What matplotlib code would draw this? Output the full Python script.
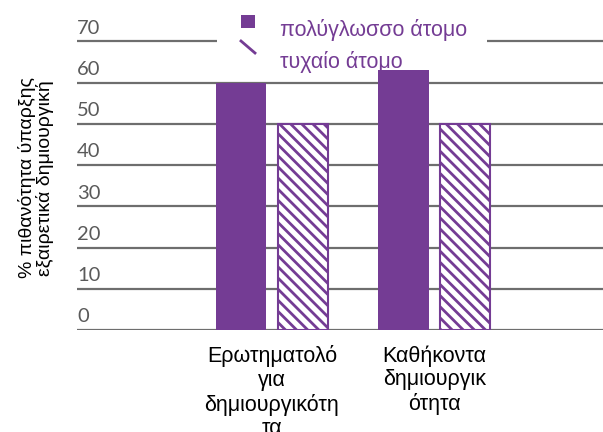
import numpy as np
import matplotlib
matplotlib.use("Agg")
import matplotlib.pyplot as plt
from matplotlib.patches import Rectangle
from matplotlib.lines import Line2D

categories = ["Ερωτηματολό\nγια\nδημιουργικότη\nτα", "Καθήκοντα\nδημιουργικ\nότητα"]
multilingual = [60, 63]
random_person = [50, 50]
series_names = ["πολύγλωσσο άτομο", "τυχαίο άτομο"]
yticks = [0, 10, 20, 30, 40, 50, 60, 70]

purple = "#743c94"
grid_grey = "#6e6e6e"

plt.rcParams["hatch.linewidth"] = 2.0
plt.rcParams["font.family"] = ["Liberation Sans", "DejaVu Sans"]

W, H = 603, 432
fig = plt.figure(figsize=(W / 100, H / 100), dpi=100)
ax = fig.add_axes([0.128, 0.236, 0.872, 0.764])

x = np.arange(len(categories))
w = 0.31
off = 0.19

for v in yticks:
    ax.axhline(v, color=grid_grey, lw=1.6, zorder=1)
    ax.annotate(str(v), xy=(0, v), xycoords=("axes fraction", "data"),
                xytext=(0, 3.3), textcoords="offset points",
                ha="left", va="bottom", fontsize=14.5, color="#5a5a5a",
                family=["Lato", "DejaVu Sans"])

ax.bar(x - off, multilingual, w, color=purple, zorder=2)
ax.bar(x + off, random_person, w, facecolor="white", edgecolor=purple,
       hatch="\\\\\\", lw=1.5, zorder=2)

ax.set_xlim(-1.2, 2.04)
ax.set_ylim(0, 80)
ax.set_xticks(x)
ax.set_xticklabels(categories, fontsize=15.5, linespacing=1.16)
ax.tick_params(axis="x", length=0, pad=11)
ax.set_yticks([])
for s in ax.spines.values():
    s.set_visible(False)

fig.text(36 / W, 1 - 178 / H, "% πιθανότητα ύπαρξης\nεξαιρετικά δημιουργική",
         rotation=90, ha="center", va="center", fontsize=14, linespacing=1.05)

# legend drawn by hand in pixel coordinates (origin at top left)
def px(xp, yp):
    return xp / W, 1 - yp / H

fig.patches.append(Rectangle(px(217, 56), 270 / W, 46 / H, facecolor="white",
                             edgecolor="none", transform=fig.transFigure,
                             zorder=3))
fig.patches.append(Rectangle(px(241, 28), 14 / W, 13 / H, facecolor=purple,
                             edgecolor="none", transform=fig.transFigure,
                             zorder=4))
fig.lines.append(Line2D([241 / W, 255 / W], [1 - 41 / H, 1 - 53 / H],
                        color=purple, lw=2, transform=fig.transFigure,
                        zorder=4))
fig.text(*px(280, 30), series_names[0], color=purple, fontsize=15.5,
         ha="left", va="center", zorder=5)
fig.text(*px(280, 62), series_names[1], color=purple, fontsize=15.5,
         ha="left", va="center", zorder=5)

fig.savefig("out.png", dpi=100)
